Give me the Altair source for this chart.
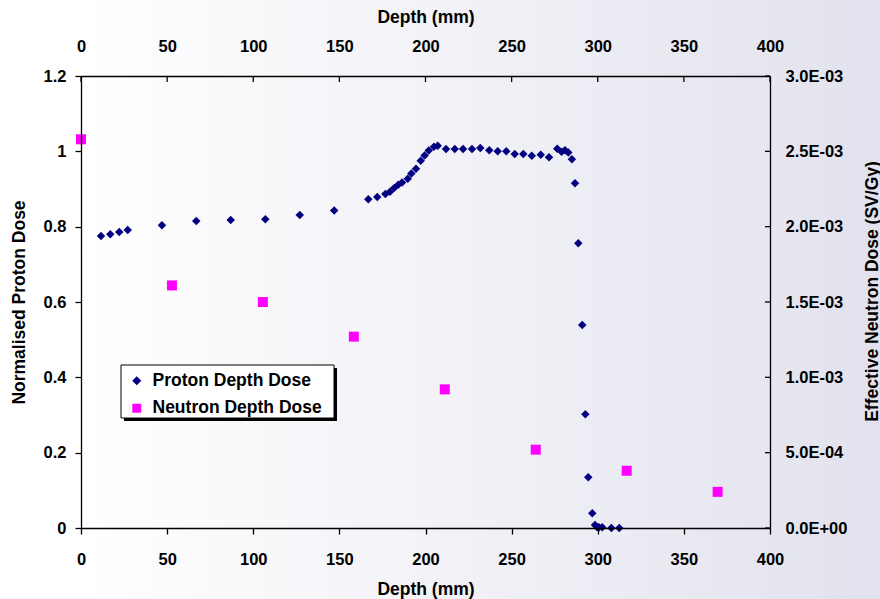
import altair as alt
import pandas as pd

# ---------------- data ----------------
proton_depth = [11.6, 17.0, 22.2, 27.1, 47.0, 66.9, 86.9, 107.0, 127.0, 147.0,
                166.8, 172.0, 176.7, 179.4, 181.9, 184.2, 186.4, 189.7, 191.8, 194.5,
                197.2, 199.5, 201.9, 204.9, 207.1, 211.9, 217.0, 221.8, 227.0, 231.8,
                237.0, 241.9, 246.9, 251.8, 256.8, 261.7, 266.9, 271.7, 276.5, 279.0,
                281.0, 282.9, 285.0, 286.8, 288.7, 291.0, 292.8, 294.5, 296.8, 298.4,
                299.7, 300.7, 302.6, 307.9, 312.5]
proton_dose = [0.775, 0.780, 0.786, 0.791, 0.804, 0.815, 0.818, 0.820, 0.831, 0.843,
               0.873, 0.879, 0.887, 0.893, 0.903, 0.911, 0.917, 0.927, 0.941, 0.954,
               0.975, 0.989, 1.002, 1.012, 1.015, 1.006, 1.006, 1.006, 1.006, 1.009,
               1.003, 1.000, 1.000, 0.993, 0.993, 0.988, 0.991, 0.984, 1.007, 0.999,
               1.003, 0.997, 0.979, 0.915, 0.756, 0.539, 0.302, 0.135, 0.039, 0.008,
               0.002, 0.002, 0.002, 0.0, 0.0]

neutron_depth = [0.0, 52.8, 105.6, 158.4, 211.2, 264.0, 316.8, 369.6]
neutron_dose = [2.58e-3, 1.61e-3, 1.50e-3, 1.27e-3, 0.92e-3, 0.52e-3, 0.38e-3, 0.24e-3]

series_names = ["Proton Depth Dose", "Neutron Depth Dose"]
series_colors = ["#000080", "#ff00ff"]
series_shapes = ["diamond", "square"]

x_ticks = [0, 50, 100, 150, 200, 250, 300, 350, 400]
left_ticks = [0, 0.2, 0.4, 0.6, 0.8, 1.0, 1.2]
right_ticks = [0, 0.0005, 0.001, 0.0015, 0.002, 0.0025, 0.003]
right_tick_labels = ["0.0E+00", "5.0E-04", "1.0E-03", "1.5E-03", "2.0E-03", "2.5E-03", "3.0E-03"]

# ---------------- layout ----------------
W, H = 689, 452
PAD = {"left": 81, "top": 76, "right": 110, "bottom": 71}
FONT = "Liberation Sans"

proton_df = pd.DataFrame({"depth": proton_depth, "dose": proton_dose, "series": series_names[0]})
neutron_df = pd.DataFrame({"depth": neutron_depth, "dose": neutron_dose, "series": series_names[1]})
one = pd.DataFrame({"k": [0]})

xscale = alt.Scale(domain=[0, 400], nice=False, zero=False)
left_scale = alt.Scale(domain=[0, 1.2], nice=False)
right_scale = alt.Scale(domain=[0, 0.003], nice=False)

color_enc = alt.Color("series:N", scale=alt.Scale(domain=series_names, range=series_colors), title=None)
shape_enc = alt.Shape("series:N", scale=alt.Scale(domain=series_names, range=series_shapes), title=None)

common_axis = dict(grid=False, domainColor="black", domainWidth=1.3, tickColor="black",
                   tickWidth=1.3, labelFont=FONT, labelFontWeight="bold", labelFontSize=16.5,
                   labelColor="black", labelFlush=False, titleFont=FONT, titleFontWeight="bold",
                   titleFontSize=17.5, titleColor="black", zindex=1)

bottom_axis = alt.Axis(orient="bottom", values=x_ticks, title="Depth (mm)", tickSize=6,
                       labelPadding=17, labelBaseline="top", titleX=W / 2, titleY=61,
                       titleBaseline="middle", titleAlign="center", **common_axis)
top_axis = alt.Axis(orient="top", values=x_ticks, title="Depth (mm)", ticks=True, tickSize=0,
                    labelPadding=22, titleX=W / 2, titleY=-59, titleBaseline="middle",
                    titleAlign="center", **common_axis)
left_axis = alt.Axis(orient="left", values=left_ticks, format=".1~f", title="Normalised Proton Dose",
                     tickSize=6, labelPadding=9, titleAngle=270, titleX=-62, titleY=H / 2,
                     titleBaseline="middle", titleAlign="center", **common_axis)
label_expr = "[" + ",".join('"%s"' % s for s in right_tick_labels) + "][round(datum.value / 0.0005)]"
right_axis = alt.Axis(orient="right", values=right_ticks, labelExpr=label_expr,
                      title="Effective Neutron Dose (SV/Gy)", ticks=True, tickSize=0,
                      labelPadding=15, titleAngle=270, titleX=102, titleY=215,
                      titleBaseline="middle", titleAlign="center", **common_axis)

gradient = {"gradient": "linear", "x1": 0, "x2": 1, "y1": 0, "y2": 0,
            "stops": [{"offset": 0, "color": "#ffffff"},
                      {"offset": 0.085, "color": "#ffffff"},
                      {"offset": 1, "color": "#e2e2ee"}]}

bg = alt.Chart(one).mark_rect(color=gradient).encode(
    x=alt.value(-PAD["left"]), x2=alt.value(W + PAD["right"]),
    y=alt.value(-PAD["top"]), y2=alt.value(H + PAD["bottom"]))

legend_shadow = alt.Chart(one).mark_rect(color="black").encode(
    x=alt.value(43), x2=alt.value(256), y=alt.value(292), y2=alt.value(345))
legend_box = alt.Chart(one).mark_rect(color="white", stroke="black", strokeWidth=1).encode(
    x=alt.value(40), x2=alt.value(253), y=alt.value(289), y2=alt.value(342))

proton = alt.Chart(proton_df).mark_point(filled=True, opacity=1, size=72).encode(
    x=alt.X("depth:Q", scale=xscale, axis=bottom_axis),
    y=alt.Y("dose:Q", scale=left_scale, axis=left_axis),
    color=color_enc, shape=shape_enc)

neutron = alt.Chart(neutron_df).mark_point(filled=True, opacity=1, size=100).encode(
    x=alt.X("depth:Q", scale=xscale, axis=top_axis),
    y=alt.Y("dose:Q", scale=right_scale, axis=right_axis),
    color=color_enc, shape=shape_enc)

top_tick_marks = alt.Chart(pd.DataFrame({"t": x_ticks})).mark_rule(color="black", strokeWidth=1.3).encode(
    x=alt.X("t:Q", scale=xscale, axis=top_axis), y=alt.value(0), y2=alt.value(6))
right_tick_marks = alt.Chart(pd.DataFrame({"v": right_ticks})).mark_rule(color="black", strokeWidth=1.3).encode(
    y=alt.Y("v:Q", scale=right_scale, axis=right_axis), x=alt.value(W - 5), x2=alt.value(W))

left_group = alt.layer(bg, legend_shadow, legend_box, proton)
right_group = alt.layer(neutron, top_tick_marks, right_tick_marks)

chart = alt.layer(left_group, right_group).resolve_scale(
    y="independent"
).resolve_axis(
    x="independent", y="independent"
).properties(
    width=W, height=H,
    autosize=alt.AutoSizeParams(type="none"),
    padding=PAD,
    background="white",
).configure_view(
    stroke=None
).configure_legend(
    orient="none", legendX=47, legendY=296, padding=0, rowPadding=8.5,
    labelFont=FONT, labelFontWeight="bold", labelFontSize=17.5, labelColor="black",
    labelOffset=7, symbolSize=80, symbolStrokeWidth=0, zindex=1, labelLimit=400
)

chart.save("out.html", embed_options={"renderer": "svg", "actions": False})
